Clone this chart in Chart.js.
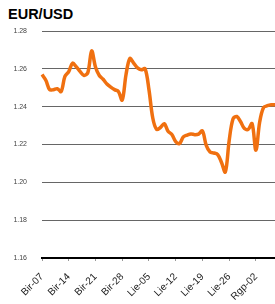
<!DOCTYPE html>
<html>
<head>
<meta charset="utf-8">
<script src="https://cdn.jsdelivr.net/npm/chart.js@4"></script>
<style>
html,body{margin:0;padding:0;background:#fff;}
#wrap{position:relative;width:275px;height:304px;}
#title{position:absolute;left:8px;top:5px;font:bold 14.5px "Liberation Sans",Arial,sans-serif;color:#000;line-height:18px;}
canvas{position:absolute;left:0;top:0;}
</style>
</head>
<body>
<div id="wrap">
<div id="title">EUR/USD</div>
<canvas id="c" width="275" height="304"></canvas>
</div>
<script>
const categories = [
 'Bir-07','Bir-08','Bir-09','Bir-10','Bir-11','Bir-12','Bir-13',
 'Bir-14','Bir-15','Bir-16','Bir-17','Bir-18','Bir-19','Bir-20',
 'Bir-21','Bir-22','Bir-23','Bir-24','Bir-25','Bir-26','Bir-27',
 'Bir-28','Bir-29','Bir-30','Lie-01','Lie-02','Lie-03','Lie-04',
 'Lie-05','Lie-06','Lie-07','Lie-08','Lie-09','Lie-10','Lie-11',
 'Lie-12','Lie-13','Lie-14','Lie-15','Lie-16','Lie-17','Lie-18',
 'Lie-19','Lie-20','Lie-21','Lie-22','Lie-23','Lie-24','Lie-25',
 'Lie-26','Lie-27','Lie-28','Lie-29','Lie-30','Lie-31','Rgp-01',
 'Rgp-02','Rgp-03','Rgp-04','Rgp-05','Rgp-06','Rgp-07'
];
const tickLabels = ['Bir-07','Bir-14','Bir-21','Bir-28','Lie-05','Lie-12','Lie-19','Lie-26','Rgp-02'];
const eurUsd = [
 1.257,1.254,1.249,1.249,1.2495,1.248,1.256,
 1.2585,1.263,1.261,1.2585,1.2565,1.258,1.2695,
 1.261,1.2565,1.2545,1.252,1.2503,1.249,1.248,
 1.2435,1.257,1.2655,1.263,1.2605,1.2595,1.260,
 1.249,1.234,1.228,1.229,1.231,1.227,1.2253,
 1.2215,1.2205,1.224,1.225,1.2256,1.2252,1.2255,
 1.2272,1.2195,1.216,1.2155,1.2147,1.2105,1.2055,
 1.222,1.2335,1.2348,1.232,1.2284,1.228,1.231,
 1.217,1.232,1.2395,1.2405,1.241,1.241
];
const yTicks = [1.16,1.18,1.20,1.22,1.24,1.26,1.28];

const FONT = '"Liberation Sans", Arial, sans-serif';
new Chart(document.getElementById('c'), {
  type: 'line',
  data: {
    labels: categories,
    datasets: [{
      data: eurUsd,
      borderColor: '#f07010',
      borderWidth: 3.5,
      pointRadius: 0,
      tension: 0.35,
      fill: false
    }]
  },
  options: {
    responsive: false,
    animation: false,
    layout: { padding: { left: 12, right: 0, top: 31, bottom: 0 } },
    plugins: { legend: { display: false }, title: { display: false }, tooltip: { enabled: false } },
    scales: {
      x: {
        afterFit: s => { s.height = 46; },
        grid: { drawOnChartArea: false, drawTicks: true, tickLength: 3, color: '#999' },
        border: { display: true, color: '#000', width: 2 },
        ticks: {
          autoSkip: false, maxRotation: 45, minRotation: 45, padding: 10,
          color: '#222', font: { family: FONT, size: 10 },
          callback: function(v, i) {
            const l = categories[i];
            return tickLabels.includes(l) ? l : null;
          }
        }
      },
      y: {
        afterFit: s => { s.width = 30; },
        min: yTicks[0], max: yTicks[yTicks.length - 1],
        afterBuildTicks: function(s) { s.ticks = yTicks.map(v => ({ value: v })); },
        grid: { drawTicks: false, color: '#666', lineWidth: 1 },
        border: { display: false },
        ticks: {
          padding: 15, color: '#444', font: { family: FONT, size: 7 },
          callback: v => v.toFixed(2)
        }
      }
    }
  }
});
</script>
</body>
</html>
